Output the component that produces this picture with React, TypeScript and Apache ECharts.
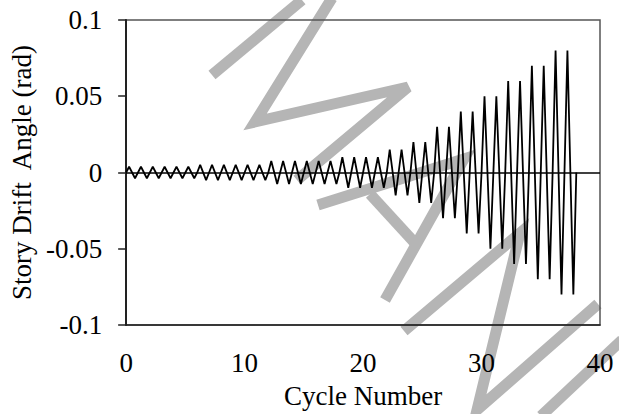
import React, { useEffect, useRef } from "react";
import * as echarts from "echarts";

// Amplitude (rad) of each loading cycle (cycle 0 .. 37)
const cycleAmplitude: number[] = [
  0.00375, 0.00375, 0.00375, 0.00375, 0.00375, 0.00375,
  0.005, 0.005, 0.005, 0.005, 0.005, 0.005,
  0.0075, 0.0075, 0.0075, 0.0075, 0.0075, 0.0075,
  0.01, 0.01, 0.01, 0.01,
  0.015, 0.015,
  0.02, 0.02,
  0.03, 0.03,
  0.04, 0.04,
  0.05, 0.05,
  0.06, 0.06,
  0.07, 0.07,
  0.08, 0.08,
];

const xTicks = [0, 10, 20, 30, 40];
const yTicks = [-0.1, -0.05, 0, 0.05, 0.1];
const xName = "Cycle Number";
const yName = "Story Drift  Angle (rad)";

// Watermark strokes (pixel coordinates of the picture)
const watermark: number[][][] = [
  [[212, 75], [302, 0]],
  [[332, -2], [255, 122], [408, 87], [297, 180]],
  [[318, 205], [464, 159], [385, 300]],
  [[370, 194], [414, 242]],
  [[404, 331], [520, 233], [477, 410], [598, 304]],
  [[622, 340], [541, 416]],
];

export default function App() {
  const ref = useRef<HTMLDivElement>(null);
  useEffect(() => {
    if (!ref.current) return;
    const chart = echarts.init(ref.current, undefined, { renderer: "svg" });
    const data: number[][] = [];
    cycleAmplitude.forEach((a, i) => {
      data.push([i, 0]);
      data.push([i + 0.25, a]);
      data.push([i + 0.75, -a]);
    });
    data.push([cycleAmplitude.length, 0]);
    const font = "'Liberation Serif', 'Times New Roman', serif";
    chart.setOption({
      animation: false,
      grid: {
        left: 126,
        right: 19,
        top: 20,
        bottom: 86,
        show: true,
        borderColor: "#555",
        borderWidth: 1.5,
        backgroundColor: "transparent",
      },
      xAxis: {
        type: "value",
        min: xTicks[0],
        max: xTicks[xTicks.length - 1],
        interval: 10,
        name: xName,
        nameLocation: "middle",
        nameGap: 57,
        nameTextStyle: { fontFamily: font, fontSize: 27, color: "#000" },
        axisLine: { show: true, onZero: false, lineStyle: { color: "#222", width: 1.5 } },
        axisTick: { show: false },
        splitLine: { show: false },
        axisLabel: { fontFamily: font, fontSize: 27, color: "#000", margin: 24 },
      },
      yAxis: {
        type: "value",
        min: yTicks[0],
        max: yTicks[yTicks.length - 1],
        interval: 0.05,
        name: yName,
        nameLocation: "middle",
        nameGap: 83,
        nameTextStyle: { fontFamily: font, fontSize: 27, color: "#000" },
        axisLine: { show: true, lineStyle: { color: "#222", width: 2 } },
        axisTick: { show: true, inside: false, length: 8, lineStyle: { color: "#222", width: 1.5 } },
        splitLine: { show: false },
        axisLabel: { fontFamily: font, fontSize: 27, color: "#000", margin: 24 },
      },
      graphic: {
        z: -10,
        zlevel: 0,
        elements: watermark.map((pts) => ({
          type: "polyline",
          z: -10,
          silent: true,
          shape: { points: pts },
          style: { stroke: "#b5b5b5", lineWidth: 11, fill: null, lineJoin: "miter", lineCap: "butt" },
        })),
      },
      series: [
        {
          type: "line",
          data,
          z: 3,
          symbol: "none",
          lineStyle: { color: "#000", width: 1.8 },
          markLine: {
            silent: true,
            symbol: "none",
            label: { show: false },
            lineStyle: { color: "#000", width: 1.5, type: "solid" },
            data: [{ yAxis: 0 }],
          },
        },
      ],
    });
    return () => chart.dispose();
  }, []);
  return (
    <div
      ref={ref}
      style={{ position: "fixed", left: 0, top: 0, width: 619, height: 414, background: "#fff" }}
    />
  );
}
